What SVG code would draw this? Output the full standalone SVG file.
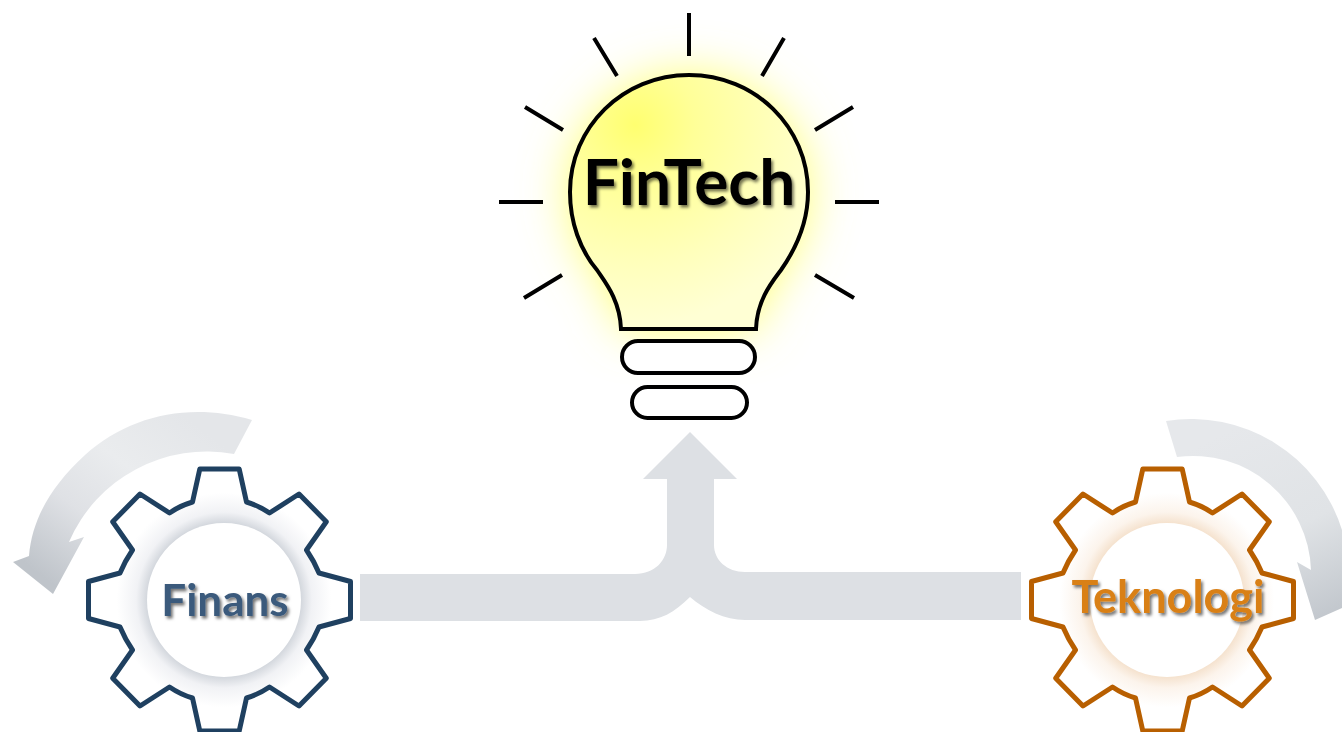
<svg xmlns="http://www.w3.org/2000/svg" xmlns:xlink="http://www.w3.org/1999/xlink" width="1342" height="732" viewBox="0 0 1342 732">
<style>
.ray{stroke:#000;stroke-width:4;fill:none}
.bulb{stroke:#000;stroke-width:4;stroke-linejoin:miter}
.pill{fill:#fff;stroke:#000;stroke-width:4}
.gear{stroke-width:5;stroke-linejoin:round}
.label{font-family:"Lato","Liberation Sans",sans-serif;font-weight:700;text-anchor:middle}
.flat{fill:#dde0e4}
</style>
<defs>
<path id="gearShape" d="M-19.7-131H19.7L27-98Q39-94.5 50-87L79.5-106 106.8-78.3 87-50Q94.5-39 99.5-27L131-18.5V18.5L99.5 27Q94.5 39 87 50L106.8 78.3 79.5 106 50 87Q39 94.5 27 98L19.7 131H-19.7L-27 98Q-39 94.5-50 87L-79.5 106-106.8 78.3-87 50Q-94.5 39-99.5 27L-131 18.5V-18.5L-99.5-27Q-94.5-39-87-50L-106.8-78.3-79.5-106-50-87Q-39-94.5-27-98Z"/>
<radialGradient id="gearF" gradientUnits="userSpaceOnUse" cx="4.5" cy="0" r="122">
<stop offset="0.63" stop-color="#d3d7dd"/><stop offset="0.72" stop-color="#f1f2f5"/><stop offset="0.88" stop-color="#fff"/>
</radialGradient>
<radialGradient id="gearT" gradientUnits="userSpaceOnUse" cx="4.5" cy="0" r="122">
<stop offset="0.63" stop-color="#f5e2ce"/><stop offset="0.72" stop-color="#fcf4ec"/><stop offset="0.88" stop-color="#fff"/>
</radialGradient>
<radialGradient id="bulbFill" gradientUnits="userSpaceOnUse" cx="635" cy="125" r="200">
<stop offset="0" stop-color="#ffff70"/><stop offset="0.3" stop-color="#ffff98"/><stop offset="0.7" stop-color="#ffffbc"/><stop offset="1" stop-color="#ffffd4"/>
</radialGradient>
<linearGradient id="swoopL" gradientUnits="userSpaceOnUse" x1="190" y1="420" x2="60" y2="590">
<stop offset="0" stop-color="#e4e6e9"/><stop offset="0.35" stop-color="#eaecee"/><stop offset="0.65" stop-color="#dfe1e5"/><stop offset="1" stop-color="#bfc4ca"/>
</linearGradient>
<linearGradient id="swoopR" gradientUnits="userSpaceOnUse" x1="1230" y1="430" x2="1320" y2="620">
<stop offset="0" stop-color="#e6e8eb"/><stop offset="0.55" stop-color="#e0e3e6"/><stop offset="1" stop-color="#c2c7cd"/>
</linearGradient>
<filter id="glow" x="-50%" y="-50%" width="200%" height="200%"><feGaussianBlur stdDeviation="24"/></filter>
<filter id="txtShadow" x="-10%" y="-20%" width="125%" height="145%"><feDropShadow dx="2" dy="2.5" stdDeviation="1.6" flood-color="#000" flood-opacity="0.55"/></filter>
</defs>
<rect width="1342" height="732" fill="#fff"/>
<g id="connectors">
<path id="merge-arrow" class="flat" d="M360 574H635C655 574 667 560 667 545V479H643L690 432 737 479H714V545C714 560 727 572 745 572H1021V620H745C725 620 705 610 690 597C675 612 660 621 640 621H360Z"/>
<path id="swoop-left" fill="url(#swoopL)" d="M252 420C190 402 130 415 85 455C50 487 32 520 29 556L13 562 53 594 84 537 69 542A150 150 0 0 1 234 454Z"/>
<path id="swoop-right" fill="url(#swoopR)" d="M1166 421A158 158 0 0 1 1342 530V608L1315 620 1297 562 1311 570A118 118 0 0 0 1177 457Z"/>
</g>
<g id="node-fintech">
<path fill="#ffff70" filter="url(#glow)" d="M621 329C620 300 605 282 597 270C580 250 570 222 570 192C570 127 623 75 689 75C755 75 808 127 808 192C808 222 795 250 781 270C772 282 757 300 756 329Z"/>
<path class="ray" d="M689 13V56M594 38L617 76M784 38L762 76M525 107L563 130M853 107L815 130M499 202H543M835 202H879M562 275L524 298M815 275L854 298"/>
<path class="bulb" fill="url(#bulbFill)" d="M621 329C620 300 605 282 597 270C580 250 570 222 570 192C570 127 623 75 689 75C755 75 808 127 808 192C808 222 795 250 781 270C772 282 757 300 756 329Z"/>
<rect class="pill" x="622" y="341" width="133" height="32" rx="16"/>
<rect class="pill" x="632" y="387" width="115" height="31" rx="15.5"/>
<text class="label" x="689" y="205" font-size="64" fill="#000" filter="url(#txtShadow)">FinTech</text>
</g>
<g id="node-finans">
<use href="#gearShape" class="gear" transform="translate(219.5 600)" fill="url(#gearF)" stroke="#1f4060"/>
<circle cx="224" cy="600" r="77" fill="#fff"/>
<text class="label" x="225" y="616" font-size="44" fill="#3b5a7c" filter="url(#txtShadow)">Finans</text>
</g>
<g id="node-teknologi">
<use href="#gearShape" class="gear" transform="translate(1162.5 600)" fill="url(#gearT)" stroke="#b85f00"/>
<circle cx="1167" cy="600" r="77" fill="#fff"/>
<text class="label" x="1168" y="613" font-size="45" fill="#d98019" filter="url(#txtShadow)">Teknologi</text>
</g>
</svg>
